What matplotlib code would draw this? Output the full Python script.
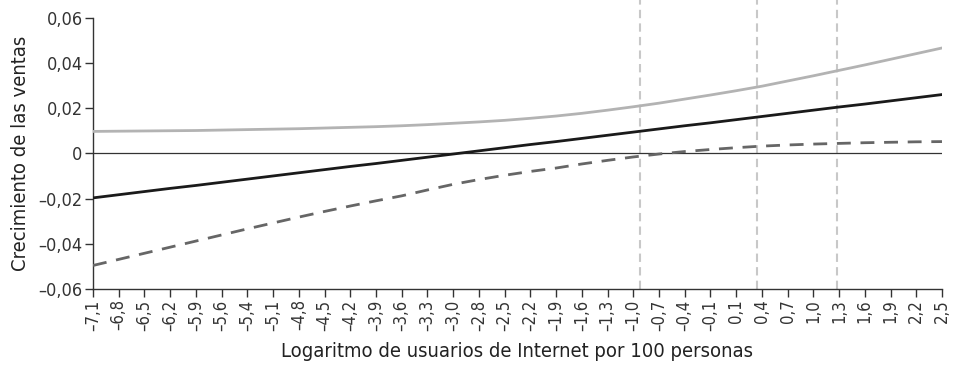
import numpy as np
import matplotlib
matplotlib.use("Agg")
import matplotlib.pyplot as plt

plt.rcParams["font.family"] = ["DejaVu Sans"]
plt.rcParams["font.stretch"] = "condensed"

# eje x: 34 puntos equiespaciados entre -7,1 y 2,5
x_labels = ["–7,1", "–6,8", "–6,5", "–6,2", "–5,9", "–5,6", "–5,4", "–5,1",
            "–4,8", "–4,5", "–4,2", "–3,9", "–3,6", "–3,3", "–3,0", "–2,8",
            "–2,5", "–2,2", "–1,9", "–1,6", "–1,3", "–1,0", "–0,7", "–0,4",
            "–0,1", "0,1", "0,4", "0,7", "1,0", "1,3", "1,6", "1,9", "2,2", "2,5"]
x_vals = np.linspace(-7.1, 2.5, len(x_labels))

upper = [0.0097, 0.0098, 0.0099, 0.0100, 0.0101, 0.0103, 0.0105, 0.0107,
         0.0109, 0.0112, 0.0115, 0.0118, 0.0122, 0.0127, 0.0133, 0.0139,
         0.0146, 0.0155, 0.0165, 0.0177, 0.0191, 0.0206, 0.0222, 0.0240,
         0.0258, 0.0277, 0.0297, 0.0320, 0.0343, 0.0367, 0.0391, 0.0416,
         0.0441, 0.0466]
effect = [-0.0197, -0.0183, -0.0169, -0.0155, -0.0142, -0.0128, -0.0114, -0.0100,
          -0.0086, -0.0072, -0.0058, -0.0045, -0.0031, -0.0017, -0.0003, 0.0011,
          0.0025, 0.0039, 0.0052, 0.0066, 0.0080, 0.0094, 0.0108, 0.0122,
          0.0135, 0.0149, 0.0163, 0.0177, 0.0191, 0.0205, 0.0218, 0.0232,
          0.0246, 0.0260]
lower = [-0.0496, -0.0469, -0.0442, -0.0415, -0.0388, -0.0361, -0.0334, -0.0308,
         -0.0282, -0.0257, -0.0233, -0.0210, -0.0188, -0.0162, -0.0137, -0.0116,
         -0.0097, -0.0080, -0.0065, -0.0047, -0.0031, -0.0016, -0.0003, 0.0008,
         0.0017, 0.0025, 0.0032, 0.0037, 0.0041, 0.0044, 0.0047, 0.0049,
         0.0051, 0.0052]

v_lines = [-0.91, 0.41, 1.31]
y_ticks = [-0.06, -0.04, -0.02, 0, 0.02, 0.04, 0.06]
y_labels = ["–0,06", "–0,04", "–0,02", "0", "0,02", "0,04", "0,06"]

fig = plt.figure(figsize=(9.57, 3.68), dpi=100)
ax = fig.add_axes([0.0972, 0.2147, 0.8871, 0.7372])

for xv in v_lines:
    ax.axvline(xv, ymin=0, ymax=1.065, color="#c8c8c8", lw=1.5,
               dashes=(4, 2.5), clip_on=False, zorder=1)

ax.axhline(0, color="#333333", lw=0.9, zorder=2)
ax.plot(x_vals, upper, color="#b3b3b3", lw=2.0, zorder=3)
ax.plot(x_vals, effect, color="#1a1a1a", lw=2.0, zorder=4)
ax.plot(x_vals, lower, color="#666666", lw=2.0, dashes=(5, 3.5), zorder=3)

ax.set_xlim(-7.1, 2.5)
ax.set_ylim(-0.06, 0.06)
ax.set_xticks(x_vals)
ax.set_xticklabels(x_labels, rotation=90, fontsize=12, color="#333333")
ax.set_yticks(y_ticks)
ax.set_yticklabels(y_labels, fontsize=13, color="#333333")

for side in ["top", "right"]:
    ax.spines[side].set_visible(False)
for side in ["left", "bottom"]:
    ax.spines[side].set_color("#333333")
    ax.spines[side].set_linewidth(1.0)
ax.tick_params(axis="both", length=5.5, width=1.0, color="#333333", pad=2)

ax.set_xlabel("Logaritmo de usuarios de Internet por 100 personas",
              fontsize=14.5, color="#222222", labelpad=8)
ax.set_ylabel("Crecimiento de las ventas", fontsize=14.5, color="#222222",
              labelpad=6)

fig.savefig("out.png", dpi=100)
